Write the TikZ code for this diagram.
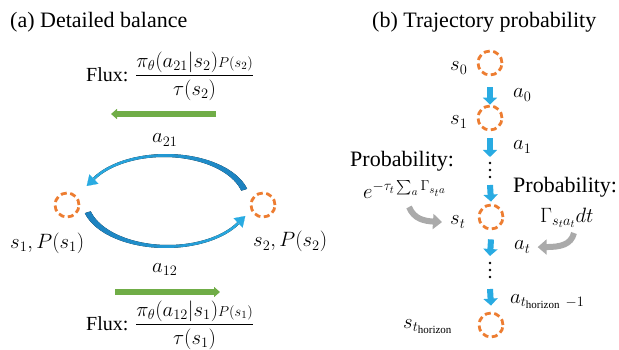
\documentclass[tikz,border=0pt]{standalone}
\usepackage{amsmath}
\usepackage{fontspec}
\setmainfont{Liberation Serif}
\usetikzlibrary{arrows.meta,positioning}

\definecolor{stateorange}{RGB}{237,125,49}
\definecolor{fluxgreen}{RGB}{112,173,71}
\definecolor{actblue}{RGB}{41,171,226}
\definecolor{arcdark}{RGB}{28,128,190}
\definecolor{probgray}{RGB}{170,170,170}

\newcommand{\smallP}[1]{\mbox{\fontsize{15}{15}\selectfont$P(s_{#1})$}}

\begin{document}
\begin{tikzpicture}[x=1pt,y=-1pt,
  state/.style={circle,draw=stateorange,line width=2.8pt,
                dash pattern=on 6pt off 3.5pt,minimum size=24pt,inner sep=0pt},
  lbl/.style={font=\fontsize{22}{26}\selectfont,inner sep=0pt,anchor=base west},
  problbl/.style={font=\fontsize{22}{26}\selectfont,inner sep=0pt,anchor=north west,align=left},
  fluxlbl/.style={font=\fontsize{20}{24}\selectfont,inner sep=0pt,anchor=west},
  fluxarrow/.style={draw=fluxgreen,line width=5.5pt,-{Triangle[width=10pt,length=6pt]}},
  actarrow/.style={draw=actblue,line width=6pt,-{Triangle[width=14pt,length=7pt]}},
  probarrow/.style={draw=probgray,line width=6pt,-{Triangle[width=15pt,length=9pt]}},
  arctip/.style={draw=actblue,line width=0.1pt,-{Triangle[width=13pt,length=10pt]}},
]
\useasboundingbox (0,0) rectangle (619,350);

% (a) Detailed balance
\node[lbl] (titleA) at (10,28) {(a) Detailed balance};

\node[fluxlbl] (fluxtop) at (86,76)
  {Flux: $\dfrac{\pi_\theta(a_{21}|s_2)\smallP{2}}{\tau(s_2)}$};
\coordinate (ftopR) at (216,114);
\coordinate (ftopL) at (111,114);
\draw[fluxarrow] (ftopR) -- (ftopL);
\node[lbl] (a21) at (152,143) {$a_{21}$};

\node[state] (S1) at (67,205) {};
\node[state] (S2) at (263,205) {};
\node[lbl] (S1l) at (10,248) {$s_1, P(s_1)$};
\node[lbl] (S2l) at (253,247) {$s_2, P(s_2)$};

% upper arc, s2 -> s1
\fill[left color=actblue,right color=arcdark]
  plot[domain=15:150,samples=40] ({166+84*cos(\x)},{201-47*sin(\x)})
  -- plot[domain=150:15,samples=40] ({164+80*cos(\x)},{202.5-45.5*sin(\x)}) -- cycle;
\coordinate (topend) at (94.5,178.5);
\coordinate (toptip) at (86.7,186);
\draw[arctip] (topend) -- (toptip);

% lower arc, s1 -> s2
\fill[left color=arcdark,right color=actblue]
  plot[domain=195:330,samples=40] ({166+84*cos(\x)},{201-47*sin(\x)})
  -- plot[domain=330:195,samples=40] ({168+80*cos(\x)},{199.5-45.5*sin(\x)}) -- cycle;
\coordinate (botend) at (237.5,223.5);
\coordinate (bottip) at (245.3,216);
\draw[arctip] (botend) -- (bottip);

\node[lbl] (a12) at (152,272) {$a_{12}$};
\coordinate (fbotL) at (115,292);
\coordinate (fbotR) at (220,292);
\draw[fluxarrow] (fbotL) -- (fbotR);
\node[fluxlbl] (fluxbot) at (86,325)
  {Flux: $\dfrac{\pi_\theta(a_{12}|s_1)\smallP{1}}{\tau(s_1)}$};

% (b) Trajectory probability
\node[lbl] (titleB) at (372,28) {(b) Trajectory probability};

\node[state] (s0) at (490,63) {};
\node[state] (s1) at (490,118) {};
\coordinate (dots1) at (490,170);
\node[state] (st) at (491,217) {};
\coordinate (dots2) at (490,270);
\node[state] (sh) at (491,325) {};

% vertical dots
\foreach \d in {dots1,dots2}
  \foreach \dy in {-7,0,7}
    \fill ([yshift=-\dy pt]\d) circle (1.3);

\node[lbl] (s0l) at (450,71) {$s_0$};
\node[lbl] (s1l) at (450,125) {$s_1$};
\node[lbl] (stl) at (450,225) {$s_t$};
\node[lbl] (shl) at (403,328) {$s_{t_{\mathrm{horizon}}}$};
\node[lbl] (a0l) at (513,98) {$a_0$};
\node[lbl] (a1l) at (513,150) {$a_1$};
\node[lbl] (atl) at (514,250) {$a_t$};
\node[lbl] (ahl) at (510,303) {$a_{t_{\mathrm{horizon}}\ -1}$};

\draw[actarrow] ([yshift=-11pt]s0.south) -- (s1.north);
\draw[actarrow] ([yshift=-7pt]s1.south) -- ([yshift=13pt]dots1);
\draw[actarrow] ([yshift=-15pt]dots1) -- ([yshift=2pt]st.north);
\draw[actarrow] ([yshift=-9pt]st.south) -- ([yshift=14pt]dots2);
\draw[actarrow] ([yshift=-19pt]dots2) -- ([yshift=6pt]sh.north);

% probabilities
\node[problbl] (probL) at (350,151)
  {Probability:\\[6pt]\hspace*{13pt}$e^{-\tau_t\sum_a\Gamma_{s_t a}}$};
\node[problbl] (probR) at (513,177)
  {Probability:\\[4pt]\hspace*{27pt}$\Gamma_{s_t a_t}dt$};

\coordinate (pLtail) at (409,207);
\coordinate (pRtail) at (574,233);
\draw[probarrow] (pLtail) .. controls (414,219) and (424,221) .. ([xshift=-8pt]stl.west);
\draw[probarrow] (pRtail) .. controls (571,245) and (560,247) .. ([xshift=7pt]atl.east);

\end{tikzpicture}
\end{document}
